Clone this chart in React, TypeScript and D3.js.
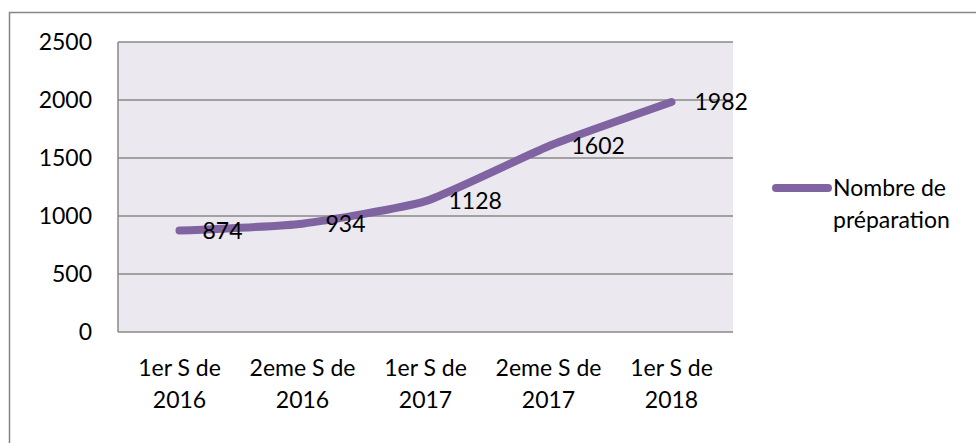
import React, { useEffect, useRef } from "react";
import * as d3 from "d3";

const categories = [
  ["1er S de", "2016"],
  ["2eme S de", "2016"],
  ["1er S de", "2017"],
  ["2eme S de", "2017"],
  ["1er S de", "2018"],
];
const values = [874, 934, 1128, 1602, 1982];
const yTicks = [0, 500, 1000, 1500, 2000, 2500];
const seriesName = ["Nombre de", "préparation"];

const width = 976;
const height = 443;
const plot = { left: 118, right: 733, top: 42, bottom: 332 };
const font = "Lato, 'Open Sans', sans-serif";
const fontSize = 23;
const purple = "#8064a2";

export default function App() {
  const ref = useRef<SVGSVGElement>(null);

  useEffect(() => {
    const svg = d3.select(ref.current);
    svg.selectAll("*").remove();

    const keys = categories.map((c, i) => String(i));
    const x = d3.scaleBand().domain(keys).range([plot.left, plot.right]);
    const y = d3.scaleLinear().domain([0, 2500]).range([plot.bottom, plot.top]);
    const cx = (i: number) => (x(String(i)) as number) + x.bandwidth() / 2;

    // outer frame (cut off on the right and bottom)
    svg
      .append("rect")
      .attr("x", 9.5)
      .attr("y", 12.5)
      .attr("width", 1000)
      .attr("height", 1000)
      .attr("fill", "white")
      .attr("stroke", "#868686")
      .attr("stroke-width", 1.5);

    svg
      .append("rect")
      .attr("x", plot.left)
      .attr("y", plot.top)
      .attr("width", plot.right - plot.left)
      .attr("height", plot.bottom - plot.top)
      .attr("fill", "#ebe9ef");

    svg
      .append("g")
      .selectAll("line")
      .data(yTicks)
      .join("line")
      .attr("x1", plot.left)
      .attr("x2", plot.right)
      .attr("y1", (d) => y(d))
      .attr("y2", (d) => y(d))
      .attr("stroke", "#888")
      .attr("stroke-width", 1.5);

    svg
      .append("line")
      .attr("x1", plot.left)
      .attr("x2", plot.left)
      .attr("y1", plot.top)
      .attr("y2", plot.bottom)
      .attr("stroke", "#888")
      .attr("stroke-width", 1.5);

    svg
      .append("g")
      .selectAll("text")
      .data(yTicks)
      .join("text")
      .attr("x", 92)
      .attr("y", (d) => y(d))
      .attr("dy", "0.35em")
      .attr("text-anchor", "end")
      .text((d) => d);

    const xl = svg
      .append("g")
      .selectAll("text")
      .data(categories)
      .join("text")
      .attr("text-anchor", "middle")
      .attr("x", (d, i) => cx(i))
      .attr("y", 376);
    xl.selectAll("tspan")
      .data((d) => d)
      .join("tspan")
      .attr("x", function () {
        return (this.parentNode as SVGTextElement).getAttribute("x");
      })
      .attr("dy", (d, i) => (i === 0 ? 0 : 32))
      .text((d) => d);

    const line = d3
      .line<number>()
      .x((d, i) => cx(i))
      .y((d) => y(d))
      .curve(d3.curveCardinal.tension(0.5));

    svg
      .append("path")
      .attr("d", line(values))
      .attr("fill", "none")
      .attr("stroke", purple)
      .attr("stroke-width", 8)
      .attr("stroke-linecap", "round")
      .attr("stroke-linejoin", "round");

    svg
      .append("g")
      .selectAll("text")
      .data(values)
      .join("text")
      .attr("x", (d, i) => cx(i) + 23)
      .attr("y", (d) => y(d))
      .attr("dy", "0.35em")
      .text((d) => d);

    // legend
    svg
      .append("line")
      .attr("x1", 776)
      .attr("x2", 828)
      .attr("y1", 188)
      .attr("y2", 188)
      .attr("stroke", purple)
      .attr("stroke-width", 8)
      .attr("stroke-linecap", "round");
    svg
      .append("text")
      .attr("x", 833)
      .attr("y", 188)
      .selectAll("tspan")
      .data(seriesName)
      .join("tspan")
      .attr("x", 833)
      .attr("dy", (d, i) => (i === 0 ? "0.35em" : 32))
      .text((d) => d);
  }, []);

  return (
    <svg
      ref={ref}
      width={width}
      height={height}
      style={{ position: "absolute", left: 0, top: 0, fontFamily: font, fontSize, fill: "#000" }}
    ></svg>
  );
}
